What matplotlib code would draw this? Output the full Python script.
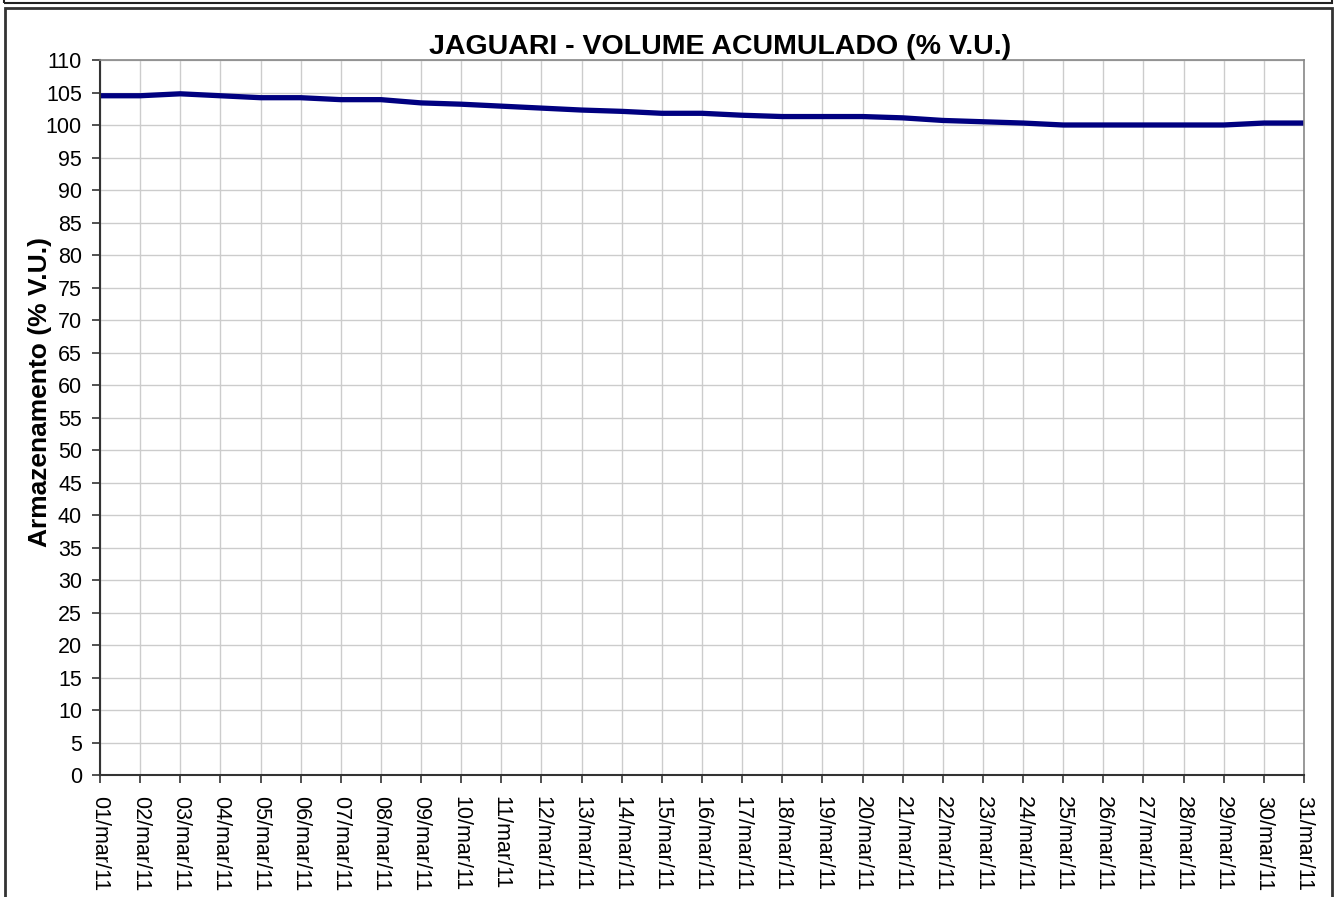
import matplotlib
matplotlib.use('Agg')
import matplotlib.pyplot as plt
from matplotlib.patches import Rectangle

# dados
dias = ['%02d/mar/11' % d for d in range(1, 32)]
volume = [104.5, 104.5, 104.8, 104.5, 104.2, 104.2, 103.9, 103.9, 103.4, 103.2,
          102.9, 102.6, 102.3, 102.1, 101.8, 101.8, 101.5, 101.3, 101.3, 101.3,
          101.1, 100.7, 100.5, 100.3, 100.0, 100.0, 100.0, 100.0, 100.0, 100.3,
          100.3]
yticks = list(range(0, 111, 5))

plt.rcParams['font.family'] = ['Liberation Sans', 'DejaVu Sans']

fig = plt.figure(figsize=(13.38, 8.97), dpi=100)
ax = fig.add_axes([100/1338, 1-775/897, 1204/1338, 715/897])

x = list(range(len(dias)))
ax.plot(x, volume, color='#000080', linewidth=3.8, solid_joinstyle='round')

ax.set_xlim(0, len(dias)-1)
ax.set_ylim(0, 110)
ax.set_xticks(x)
ax.set_xticklabels(dias, rotation=270, fontsize=15.5)
ax.set_yticks(yticks)
ax.set_yticklabels([str(v) for v in yticks], fontsize=15.5)
ax.grid(True, color='#cccccc', linewidth=1)
ax.set_axisbelow(True)
ax.tick_params(direction='out', length=6, width=1.2, color='#333333')
ax.tick_params(axis='y', pad=7)
ax.tick_params(axis='x', pad=9)

for s in ['top', 'right']:
    ax.spines[s].set_color('#888888')
    ax.spines[s].set_linewidth(1.2)
for s in ['left', 'bottom']:
    ax.spines[s].set_color('#333333')
    ax.spines[s].set_linewidth(1.5)

ax.set_title('JAGUARI - VOLUME ACUMULADO (% V.U.)', fontsize=20.5, fontweight='bold',
             pad=4, x=0.515)
ax.set_ylabel('Armazenamento (% V.U.)', fontsize=19, fontweight='bold')
ax.yaxis.set_label_coords(-0.04, 0.536)

# molduras
fig.patches.append(Rectangle((4/1338, 1-3/897), 1328/1338, 0.02, transform=fig.transFigure,
                             fill=False, edgecolor='#222222', linewidth=1.5))
fig.patches.append(Rectangle((5/1338, -0.01), 1327/1338, 1-8/897+0.01, transform=fig.transFigure,
                             fill=False, edgecolor='#333333', linewidth=2))

fig.savefig('out.png', dpi=100)
